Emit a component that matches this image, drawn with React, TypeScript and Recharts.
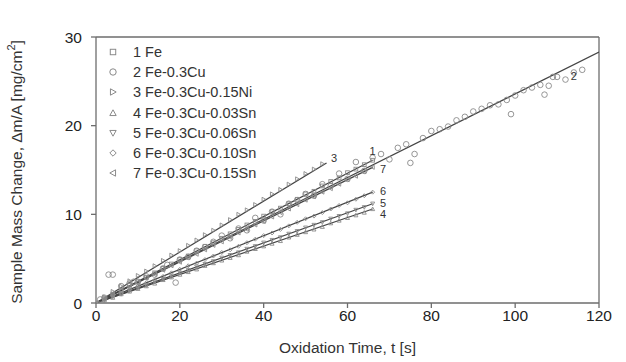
import { ComposedChart, Scatter, Line, XAxis, YAxis, ReferenceLine } from 'recharts';

const FONT = '"Liberation Sans", Arial, sans-serif';
const MARK = '#8a8a8a';
const INK = '#333';

// time grid for the dense series (s)
const timeDense = [0, 2, 4, 6, 8, 10, 12, 14, 16, 18, 20, 22, 24, 26, 28, 30, 32, 34, 36, 38, 40, 42, 44, 46, 48, 50, 52, 54, 56, 58, 60, 62, 64, 66];

// mass change (mg/cm2) per alloy
const fe = [0, 0.5, 1.0, 1.4, 2.0, 2.4, 2.9, 3.4, 3.9, 4.4, 4.9, 5.3, 5.9, 6.4, 6.8, 7.3, 7.8, 8.3, 8.8, 9.2, 9.8, 10.3, 10.7, 11.2, 11.7, 12.3, 12.6, 13.2, 13.7, 14.1, 14.7, 15.1, 15.6, 16.1];
const feNi = [0, 0.7, 1.3, 1.9, 2.5, 3.1, 3.6, 4.2, 4.8, 5.4, 5.9, 6.5, 7.1, 7.7, 8.2, 8.8, 9.4, 10.0, 10.5, 11.1, 11.7, 12.3, 12.8, 13.4, 14.0, 14.6, 15.1, 15.7];
const sn03 = [0, 0.3, 0.6, 1.0, 1.3, 1.6, 1.9, 2.2, 2.6, 2.9, 3.2, 3.5, 3.8, 4.2, 4.5, 4.8, 5.1, 5.4, 5.8, 6.1, 6.4, 6.7, 7.0, 7.4, 7.7, 8.0, 8.3, 8.6, 9.0, 9.3, 9.6, 9.9, 10.2, 10.6];
const sn06 = [0, 0.3, 0.7, 1.0, 1.4, 1.7, 2.0, 2.4, 2.7, 3.0, 3.4, 3.7, 4.1, 4.4, 4.7, 5.1, 5.4, 5.7, 6.1, 6.4, 6.8, 7.1, 7.4, 7.8, 8.1, 8.5, 8.8, 9.1, 9.5, 9.8, 10.1, 10.5, 10.8, 11.2];
const sn10 = [0, 0.4, 0.8, 1.1, 1.5, 1.9, 2.3, 2.6, 3.0, 3.4, 3.8, 4.2, 4.5, 4.9, 5.3, 5.7, 6.0, 6.4, 6.8, 7.2, 7.6, 7.9, 8.3, 8.7, 9.1, 9.5, 9.8, 10.2, 10.6, 11.0, 11.3, 11.7, 12.1, 12.5];
const sn15 = [0, 0.5, 0.9, 1.4, 1.8, 2.3, 2.8, 3.2, 3.7, 4.2, 4.6, 5.1, 5.5, 6.0, 6.5, 6.9, 7.4, 7.9, 8.3, 8.8, 9.2, 9.7, 10.2, 10.6, 11.1, 11.6, 12.0, 12.5, 12.9, 13.4, 13.9, 14.3, 14.8, 15.3];

// Fe-0.3Cu was run longer and is noisier
const timeCu = [1, 2, 3, 4, 6, 8, 9, 10, 12, 14, 16, 17, 19, 20, 22, 24, 26, 28, 30, 32, 34, 36, 38, 40, 42, 44, 46, 48, 50, 52, 54, 56, 58, 60, 62, 64, 66, 68, 70, 72, 74, 75, 76, 78, 80, 82, 84, 86, 88, 90, 92, 94, 96, 98, 99, 100, 102, 104, 106, 107, 108, 109, 110, 112, 114, 116];
const cu = [0.4, 0.6, 3.2, 3.2, 1.9, 2.2, 2.4, 2.4, 3.0, 3.2, 3.9, 4.3, 2.3, 4.9, 5.2, 5.9, 6.3, 6.9, 7.6, 7.3, 8.4, 8.2, 9.6, 9.3, 10.3, 10.0, 11.2, 11.6, 12.3, 12.1, 13.4, 13.2, 14.6, 14.0, 15.9, 14.9, 16.4, 16.8, 16.2, 17.5, 17.9, 15.8, 16.8, 18.6, 19.4, 19.6, 19.9, 20.6, 21.0, 21.6, 21.9, 22.3, 22.4, 22.9, 21.3, 23.4, 24.0, 24.3, 24.6, 23.5, 24.5, 25.5, 25.5, 25.2, 26.0, 26.3];

const seriesNames = ['1 Fe', '2 Fe-0.3Cu', '3 Fe-0.3Cu-0.15Ni', '4 Fe-0.3Cu-0.03Sn', '5 Fe-0.3Cu-0.06Sn', '6 Fe-0.3Cu-0.10Sn', '7 Fe-0.3Cu-0.15Sn'];
const markers = ['square', 'circle', 'triRight', 'triUp', 'triDown', 'diamond', 'triLeft'];

// linear fits: end of each fitted line
const fitEndX = [66, 120, 55, 66, 66, 66, 66];
const fitEndY = [16.1, 28.3, 15.8, 10.6, 11.2, 12.5, 15.3];

// where the numbers sit next to the fits
const fitLabel = ['1', '2', '3', '4', '5', '6', '7'];
const fitLabelX = [66, 114, 56.8, 68.5, 68.5, 68.5, 68.5];
const fitLabelY = [17.1, 25.6, 16.4, 10.0, 11.3, 12.6, 15.1];

const xTicks = [0, 20, 40, 60, 80, 100, 120];
const yTicks = [0, 10, 20, 30];

const pts = (xs: number[], ys: number[]) => ys.map((y, i) => ({ x: xs[i], y }));

function markerPath(kind: string, cx: number, cy: number, r: number) {
  switch (kind) {
    case 'square':
      return <rect x={cx - r * 0.85} y={cy - r * 0.85} width={r * 1.7} height={r * 1.7} />;
    case 'circle':
      return <circle cx={cx} cy={cy} r={r} />;
    case 'triUp':
      return <polygon points={`${cx},${cy - r} ${cx - r},${cy + r * 0.8} ${cx + r},${cy + r * 0.8}`} />;
    case 'triDown':
      return <polygon points={`${cx},${cy + r} ${cx - r},${cy - r * 0.8} ${cx + r},${cy - r * 0.8}`} />;
    case 'triRight':
      return <polygon points={`${cx + r},${cy} ${cx - r * 0.8},${cy - r} ${cx - r * 0.8},${cy + r}`} />;
    case 'triLeft':
      return <polygon points={`${cx - r},${cy} ${cx + r * 0.8},${cy - r} ${cx + r * 0.8},${cy + r}`} />;
    default:
      return <polygon points={`${cx},${cy - r} ${cx + r},${cy} ${cx},${cy + r} ${cx - r},${cy}`} />;
  }
}

const makeShape = (kind: string, r: number) => (props: any) => (
  <g fill="none" stroke={MARK} strokeWidth={0.9}>{markerPath(kind, props.cx, props.cy, r)}</g>
);

const labelShape = (props: any) => (
  <text x={props.cx} y={props.cy} textAnchor="middle" dominantBaseline="central" fontSize={11} fontFamily={FONT} fill={INK}>
    {props.payload.label}
  </text>
);

const scatterSets = [
  { data: pts(timeDense, fe), r: 2.2 },
  { data: pts(timeCu, cu), r: 2.8 },
  { data: pts(timeDense, feNi), r: 2.0 },
  { data: pts(timeDense, sn03), r: 2.0 },
  { data: pts(timeDense, sn06), r: 2.0 },
  { data: pts(timeDense, sn10), r: 2.0 },
  { data: pts(timeDense, sn15), r: 2.0 },
];

const fitLines = fitEndX.map((xe, i) => [{ x: 0, y: 0 }, { x: xe, y: fitEndY[i] }]);
const labelData = fitLabel.map((label, i) => ({ x: fitLabelX[i], y: fitLabelY[i], label }));

function LegendBox() {
  return (
    <div style={{ position: 'absolute', left: 105, top: 42, fontFamily: FONT, fontSize: 14.5, color: INK, lineHeight: '20.2px' }}>
      {seriesNames.map((name, i) => (
        <div key={name} style={{ display: 'flex', alignItems: 'center', whiteSpace: 'nowrap', height: 20.2 }}>
          <svg width={16} height={20} style={{ marginRight: 12 }}>
            <g fill="none" stroke={MARK} strokeWidth={1}>{markerPath(markers[i], 8, 10, 3.2)}</g>
          </svg>
          <span>{name}</span>
        </div>
      ))}
    </div>
  );
}

const yLabel = () => (
  <text transform="translate(22,172) rotate(-90)" textAnchor="middle" fontSize={15.5} fontFamily={FONT} fill={INK}>
    Sample Mass Change, Δm/A [mg/cm<tspan fontSize={11} dy={-7}>2</tspan><tspan dy={7}>]</tspan>
  </text>
);

export default function App() {
  const axisLine = { stroke: '#6d6d6d', strokeWidth: 1.3 };
  const tick = { fontSize: 15.5, fill: '#222', fontFamily: FONT };
  return (
    <div style={{ position: 'absolute', left: 0, top: 0, width: 626, height: 362, background: '#fff' }}>
      <ComposedChart width={626} height={362} margin={{ top: 37, right: 27, bottom: 0, left: 0 }}>
        <XAxis
          dataKey="x"
          type="number"
          domain={[0, 120]}
          ticks={xTicks}
          allowDataOverflow
          height={59}
          axisLine={axisLine}
          tickLine={axisLine}
          tickSize={5}
          tick={tick}
          label={{ value: 'Oxidation Time, t [s]', position: 'insideBottom', offset: 9, fontSize: 15.5, fill: INK, fontFamily: FONT }}
        />
        <YAxis
          dataKey="y"
          type="number"
          domain={[0, 30]}
          ticks={yTicks}
          allowDataOverflow
          width={96}
          axisLine={axisLine}
          tickLine={axisLine}
          tickSize={5}
          tickMargin={9}
          tick={tick}
          label={{ content: yLabel }}
        />
        <ReferenceLine y={30} stroke="#6d6d6d" strokeWidth={1.3} />
        <ReferenceLine x={120} stroke="#6d6d6d" strokeWidth={1.3} />
        {scatterSets.map((s, i) => (
          <Scatter key={seriesNames[i]} name={seriesNames[i]} data={s.data} shape={makeShape(markers[i], s.r)} isAnimationActive={false} />
        ))}
        {fitLines.map((d, i) => (
          <Line key={'fit' + i} data={d} dataKey="y" type="linear" stroke="#444" strokeWidth={1.2} dot={false} activeDot={false} isAnimationActive={false} />
        ))}
        <Scatter data={labelData} shape={labelShape} isAnimationActive={false} />
      </ComposedChart>
      <LegendBox />
    </div>
  );
}
